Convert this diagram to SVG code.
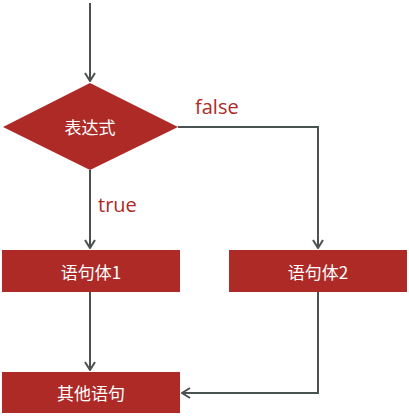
<svg xmlns="http://www.w3.org/2000/svg" width="409" height="416" viewBox="0 0 409 416">
<defs>
<style>
.box{fill:#ad2a27}
.lbl{fill:#fff;font-family:"Noto Sans CJK SC","Noto Sans",sans-serif;font-size:17px;text-anchor:middle;dominant-baseline:central}
.edge{fill:none;stroke:#4b5050;stroke-width:2}
.elbl{fill:#ad2a27;font-family:"Open Sans","Noto Sans",sans-serif;font-size:20px}
</style>
<marker id="arr" viewBox="0 0 10 12" refX="9" refY="6" markerWidth="10" markerHeight="12" markerUnits="userSpaceOnUse" orient="auto">
<path d="M1,1 L9,6 L1,11" fill="none" stroke="#4b5050" stroke-width="2"/>
</marker>
</defs>
<rect width="409" height="416" fill="#fff"/>
<g id="connectors">
<path class="edge" d="M90,3 V81" marker-end="url(#arr)"/>
<path class="edge" d="M178,127 H318 V248" marker-end="url(#arr)"/>
<text class="elbl" x="195" y="114">false</text>
<path class="edge" d="M90,170 V248" marker-end="url(#arr)"/>
<text class="elbl" x="98" y="212">true</text>
<path class="edge" d="M90,292 V370" marker-end="url(#arr)"/>
<path class="edge" d="M318,292 V393 H182" marker-end="url(#arr)"/>
</g>
<g id="cond">
<polygon class="box" points="90,83 178,127 90,170 3,127"/>
<text class="lbl" x="90" y="126">表达式</text>
</g>
<g id="body1">
<rect class="box" x="2" y="250" width="178" height="42"/>
<text class="lbl" x="91" y="271">语句体1</text>
</g>
<g id="body2">
<rect class="box" x="229" y="250" width="178" height="42"/>
<text class="lbl" x="318" y="271">语句体2</text>
</g>
<g id="other">
<rect class="box" x="2" y="372" width="178" height="41"/>
<text class="lbl" x="91" y="392">其他语句</text>
</g>
</svg>
